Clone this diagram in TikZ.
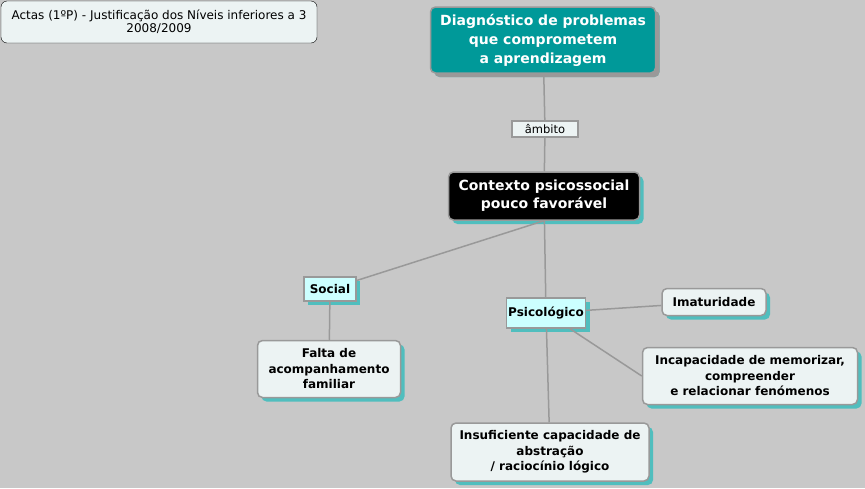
\documentclass[tikz,border=0pt]{standalone}
\usepackage{fontspec}
\setmainfont{DejaVu Sans}
\usetikzlibrary{positioning,shadows}
\definecolor{bgray}{RGB}{200,200,200}
\definecolor{tealfill}{RGB}{0,153,153}
\definecolor{tealshadow}{RGB}{80,190,190}
\definecolor{paleblue}{RGB}{236,243,243}
\definecolor{palecyan}{RGB}{204,255,255}
\definecolor{edgegray}{RGB}{153,153,153}

\begin{document}
\begin{tikzpicture}[x=1pt,y=-1pt]
    \tikzstyle{concept}=[draw=edgegray, line width=1.5pt, rounded corners=5pt, fill=paleblue, align=center, inner sep=1pt, font=\bfseries\fontsize{12}{15.5}\selectfont, drop shadow={shadow xshift=4pt, shadow yshift=-4pt, fill=tealshadow, opacity=1}]
    \tikzstyle{tag}=[draw=edgegray, line width=1.5pt, fill=palecyan, align=center, inner sep=1pt, font=\bfseries\fontsize{12}{15}\selectfont, drop shadow={shadow xshift=4pt, shadow yshift=-4pt, fill=tealshadow, opacity=1}]
    \tikzstyle{link}=[draw=edgegray, line width=1.5pt]
    \useasboundingbox[fill=bgray] (0,0) rectangle (865,488);

    \node[draw=black, fill=paleblue, rounded corners=6pt, minimum width=316pt, minimum height=42pt, align=center, inner sep=1pt, font=\fontsize{12}{13}\selectfont] (title) at (159,22) {Actas (1ºP) - Justificação dos Níveis inferiores a 3\\2008/2009};

    \node[concept, fill=tealfill, text=white, minimum width=225pt, minimum height=66pt, font=\bfseries\fontsize{14}{19}\selectfont, drop shadow={shadow xshift=4pt, shadow yshift=-4pt, fill=edgegray, opacity=1}] (diag) at (543,40) {Diagnóstico de problemas\\que comprometem\\a aprendizagem};
    \node[draw=edgegray, line width=1.5pt, fill=paleblue, minimum width=66pt, minimum height=16pt, inner sep=0pt, font=\fontsize{11.5}{12}\selectfont] (ambito) at (545,129) {âmbito};
    \node[concept, fill=black, text=white, minimum width=191pt, minimum height=48pt, font=\bfseries\fontsize{14}{18}\selectfont] (contexto) at (544,196) {Contexto psicossocial\\pouco favorável};

    \node[tag, minimum width=52pt, minimum height=24pt] (social) at (330,289) {Social};
    \node[tag, minimum width=79pt, minimum height=30pt] (psico) at (546,313) {Psicológico};

    \node[concept, minimum width=143pt, minimum height=57pt] (falta) at (329,369) {Falta de\\acompanhamento\\familiar};
    \node[concept, minimum width=104pt, minimum height=27pt] (imat) at (714,302) {Imaturidade};
    \node[concept, minimum width=215pt, minimum height=57pt] (incap) at (750,376) {Incapacidade de memorizar,\\compreender\\e relacionar fenómenos};
    \node[concept, minimum width=198pt, minimum height=58pt] (insuf) at (550,452) {Insuficiente capacidade de\\abstração\\/ raciocínio lógico};

    \draw[link] (diag) -- (ambito);
    \draw[link] (ambito) -- (contexto);
    \draw[link] (contexto.south) -- (social);
    \draw[link] (contexto) -- (psico);
    \draw[link] (social) -- (falta);
    \draw[link] (psico) -- (imat);
    \draw[link] (psico) -- (incap.west);
    \draw[link] (psico) -- (insuf);
\end{tikzpicture}
\end{document}
